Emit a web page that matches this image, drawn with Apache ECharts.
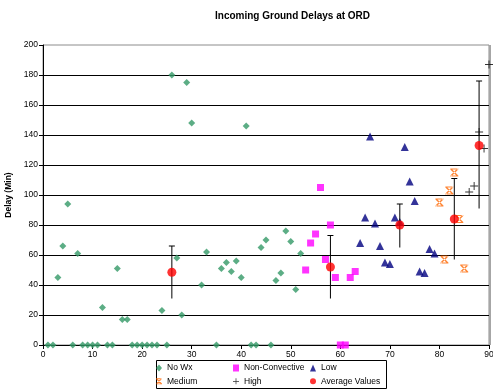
<html lang="en">
<head>
    <meta charset="UTF-8">
    <title>Incoming Ground Delays at ORD</title>
    <script src="https://cdn.jsdelivr.net/npm/echarts@6.0.0/dist/echarts.min.js"></script>
    <style>
        html, body { margin: 0; padding: 0; background: #fff; }
    </style>
</head>
<body>
    <div id="main" style="width: 493px;height:391px;"></div>
    <script type="text/javascript">
        // values
        var noWxX = [1, 2, 3, 4, 5, 6, 7, 8, 9, 10, 11, 12, 13, 14, 15, 16, 17, 18, 19, 20, 21, 22, 23, 24, 25,
            26, 27, 28, 29, 30, 32, 33, 35, 36, 37, 38, 39, 40, 41, 42, 43, 44, 45, 46, 47, 48, 49, 50, 51, 52];
        var noWxY = [0, 0, 45, 66, 94, 0, 61, 0, 0, 0, 0, 25, 0, 0, 51, 17, 17, 0, 0, 0, 0, 0, 0, 23, 0,
            180, 58, 20, 175, 148, 40, 62, 0, 51, 55, 49, 56, 45, 146, 0, 0, 65, 70, 0, 43, 48, 76, 69, 37, 61];
        var nonConvX = [53, 54, 55, 56, 57, 58, 59, 60, 61, 62, 63];
        var nonConvY = [50, 68, 74, 105, 57, 80, 45, 0, 0, 45, 49];
        var lowX = [64, 65, 66, 67, 68, 69, 70, 71, 72, 73, 74, 75, 76, 77, 78, 79];
        var lowY = [68, 85, 139, 81, 66, 55, 54, 85, 82, 132, 109, 96, 49, 48, 64, 61];
        var mediumX = [80, 81, 82, 83, 84, 85];
        var mediumY = [95, 57, 103, 115, 84, 51];
        var highX = [86, 87, 88, 89, 90];
        var highY = [102, 106, 142, 131, 187];
        var avgX = [26, 58, 72, 83, 88];
        var avgY = [48.5, 52, 80, 84, 133];
        var errLow = [31, 31, 65, 57, 91];
        var errHigh = [66, 73, 94, 111, 176];

        var xTicks = [0, 10, 20, 30, 40, 50, 60, 70, 80, 90];
        var yTicks = [0, 20, 40, 60, 80, 100, 120, 140, 160, 180, 200];

        function pairs(xs, ys) {
            return xs.map(function (x, i) { return [x, ys[i]]; });
        }

        var font = 'Liberation Sans, Arial, sans-serif';
        var starPath = 'path://M-1,-0.75L-0.75,-1L1,0.75L0.75,1ZM1,-0.75L0.75,-1L-1,0.75L-0.75,1ZM-1,-1H1V-0.72H-1ZM-1,0.72H1V1H-1Z';
        var plusPath = 'path://M-0.12,-1H0.12V-0.12H1V0.12H0.12V1H-0.12V0.12H-1V-0.12H-0.12Z';

        var myChart = echarts.init(document.getElementById('main'));

        var legendCommon = {
            orient: 'vertical',
            top: 363,
            padding: 0,
            itemWidth: 6,
            itemHeight: 7,
            itemGap: 3.3,
            textStyle: { fontFamily: font, fontSize: 8.5, color: '#000', lineHeight: 10 },
            selectedMode: false
        };

        var option = {
            animation: false,
            title: {
                text: 'Incoming Ground Delays at ORD',
                left: 210,
                top: 6,
                textStyle: { fontFamily: font, fontSize: 10, fontWeight: 'bold', color: '#000' }
            },
            grid: {
                left: 43, top: 45, right: 4, bottom: 46,
                outerBoundsMode: 'none',
                show: true, borderColor: '#8c8c8c', borderWidth: 1
            },
            legend: [
                Object.assign({ left: 156, data: [
                    { name: 'No Wx', icon: 'diamond' },
                    { name: 'Medium', icon: starPath }
                ] }, legendCommon),
                Object.assign({ left: 233, data: [
                    { name: 'Non-Convective', icon: 'rect' },
                    { name: 'High', icon: plusPath }
                ] }, legendCommon),
                Object.assign({ left: 310, data: [
                    { name: 'Low', icon: 'triangle' },
                    { name: 'Average Values', icon: 'circle' }
                ] }, legendCommon)
            ],
            graphic: [{
                type: 'rect',
                shape: { x: 156.5, y: 360.5, width: 230, height: 28 },
                style: { fill: 'none', stroke: '#000', lineWidth: 1 },
                silent: true
            }, {
                // heavier grey right edge of the plot frame
                type: 'line',
                shape: { x1: 490, y1: 45, x2: 490, y2: 345 },
                style: { stroke: '#a6a6a6', lineWidth: 2 },
                silent: true
            }],
            xAxis: {
                type: 'value',
                min: xTicks[0],
                max: xTicks[xTicks.length - 1],
                interval: 10,
                axisLine: { lineStyle: { color: '#000', width: 1 } },
                axisTick: { length: 4, lineStyle: { color: '#000' } },
                axisLabel: { fontFamily: font, fontSize: 8.5, color: '#000', margin: 5 },
                splitLine: { show: false }
            },
            yAxis: {
                type: 'value',
                min: yTicks[0],
                max: yTicks[yTicks.length - 1],
                interval: 20,
                name: 'Delay (Min)',
                nameLocation: 'middle',
                nameGap: 25,
                nameTextStyle: { fontFamily: font, fontSize: 8.5, fontWeight: 'bold', color: '#000' },
                axisLine: { show: true, lineStyle: { color: '#000', width: 1 } },
                axisTick: { show: true, length: 4, lineStyle: { color: '#000' } },
                axisLabel: { fontFamily: font, fontSize: 8.5, color: '#000', margin: 5 },
                splitLine: { show: true, showMaxLine: false, lineStyle: { color: '#000', width: 1 } }
            },
            series: [
                {
                    name: 'No Wx', type: 'scatter', symbol: 'diamond', symbolSize: 7,
                    itemStyle: { color: '#339966' },
                    data: pairs(noWxX, noWxY)
                },
                {
                    name: 'Non-Convective', type: 'scatter', symbol: 'rect', symbolSize: 7,
                    itemStyle: { color: '#ff00ff' },
                    data: pairs(nonConvX, nonConvY)
                },
                {
                    name: 'Low', type: 'scatter', symbol: 'triangle', symbolSize: 8,
                    itemStyle: { color: '#000080' },
                    data: pairs(lowX, lowY)
                },
                {
                    name: 'Medium', type: 'scatter', symbol: starPath, symbolSize: 8,
                    itemStyle: { color: '#ff6600' },
                    data: pairs(mediumX, mediumY)
                },
                {
                    name: 'High', type: 'scatter', symbol: plusPath, symbolSize: 8,
                    itemStyle: { color: '#000' },
                    data: pairs(highX, highY)
                },
                {
                    name: 'errors', type: 'custom', silent: true, z: 3,
                    renderItem: function (params, api) {
                        var x = api.value(0);
                        var lo = api.coord([x, api.value(1)]);
                        var hi = api.coord([x, api.value(2)]);
                        var st = { stroke: '#000', lineWidth: 1 };
                        return {
                            type: 'group',
                            children: [
                                { type: 'line', shape: { x1: lo[0], y1: lo[1], x2: hi[0], y2: hi[1] }, style: st },
                                { type: 'line', shape: { x1: hi[0] - 3, y1: hi[1], x2: hi[0] + 3, y2: hi[1] }, style: st }
                            ]
                        };
                    },
                    data: avgX.map(function (x, i) { return [x, errLow[i], errHigh[i]]; })
                },
                {
                    name: 'Average Values', type: 'scatter', symbol: 'circle', symbolSize: 9, z: 5,
                    itemStyle: { color: '#ff0000' },
                    data: pairs(avgX, avgY)
                }
            ]
        };
        myChart.setOption(option);
    </script>
</body>
</html>
